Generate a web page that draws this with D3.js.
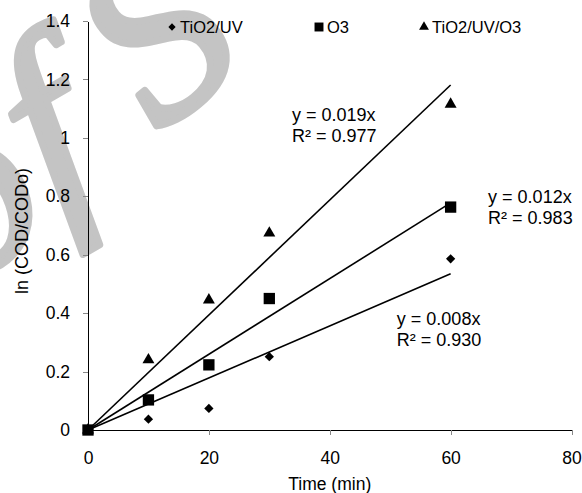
<!DOCTYPE html>
<html>
<head>
<meta charset="utf-8">
<script src="https://d3js.org/d3.v7.min.js"></script>
<style>
    body { margin: 0; background: #fff; }
    svg { display: block; font-family: "Liberation Sans", Arial, sans-serif; }
    .axis path, .axis line { shape-rendering: crispEdges; }
</style>
</head>
<body>
<div id="chart"></div>
<script>
// Data
var times = [0, 10, 20, 30, 60];
var tio2uv = [0, 0.037, 0.074, 0.251, 0.586];
var o3 = [0, 0.103, 0.223, 0.45, 0.763];
var tio2uvo3 = [0, 0.24, 0.445, 0.674, 1.115];
var seriesNames = ["TiO2/UV", "O3", "TiO2/UV/O3"];
var eqLabels = ["y = 0.008x", "y = 0.012x", "y = 0.019x"];
var r2Labels = ["R² = 0.930", "R² = 0.983", "R² = 0.977"];
var xTicks = [0, 20, 40, 60, 80];
var yTicks = [0, 0.2, 0.4, 0.6, 0.8, 1, 1.2, 1.4];

var width = 582, height = 493;
var margin = {top: 21, right: 10, bottom: 63, left: 88};

var x = d3.scaleLinear().domain([0, 80]).range([margin.left, 571.5]);
var y = d3.scaleLinear().domain([0, 1.4]).range([430, margin.top]);

var svg = d3.select("#chart").append("svg")
    .attr("width", width)
    .attr("height", height);

// watermark letters behind everything
var wmFont = 240;
var wmGlyphs = [
    {ch: "o", cx: -22, cy: 210, rot: -40, off: 0.23},
    {ch: "f", cx: 55, cy: 145, rot: -30, off: 0.24},
    {ch: "S", cx: 155, cy: 35, rot: -40, off: 0.33}
];
svg.append("g")
    .attr("fill", "#c4c4c4")
    .attr("stroke", "#c4c4c4")
    .attr("stroke-width", 7)
    .attr("stroke-linejoin", "round")
    .attr("font-family", "Liberation Serif, serif")
    .attr("font-style", "italic")
    .attr("font-size", wmFont)
    .selectAll("text")
    .data(wmGlyphs)
    .enter().append("text")
    .attr("transform", function(d) { return "translate(" + d.cx + "," + d.cy + ") rotate(" + d.rot + ")"; })
    .attr("text-anchor", "middle")
    .attr("y", function(d) { return d.off * wmFont; })
    .text(function(d) { return d.ch; });

// axes
var xAxis = svg.append("g")
    .attr("class", "x axis")
    .attr("transform", "translate(0," + y(0) + ")")
    .call(d3.axisBottom(x).tickValues(xTicks).tickSize(5).tickSizeOuter(0).tickPadding(17));
var yAxis = svg.append("g")
    .attr("class", "y axis")
    .attr("transform", "translate(" + x(0) + ",0)")
    .call(d3.axisLeft(y).tickValues(yTicks).tickSize(5).tickSizeOuter(0).tickPadding(13)
        .tickFormat(function(d) { return d3.format("")(+d.toFixed(1)); }));

svg.selectAll(".axis path").attr("stroke", "#000");
svg.selectAll(".axis line").attr("stroke", "#888");
svg.selectAll(".axis text").attr("font-size", 17.5).attr("fill", "#000")
    .attr("font-family", "Liberation Sans, Arial, sans-serif");
xAxis.selectAll(".tick").filter(function(d) { return d === 0; }).select("line").remove();

// axis titles
svg.append("text")
    .attr("x", (x(0) + x(80)) / 2)
    .attr("y", 490)
    .attr("text-anchor", "middle")
    .attr("font-size", 17.5)
    .text("Time (min)");
svg.append("text")
    .attr("transform", "translate(28,231) rotate(-90)")
    .attr("text-anchor", "middle")
    .attr("font-size", 18)
    .text("ln (COD/CODo)");

// marker shapes
var shapes = [d3.symbolDiamond2, d3.symbolSquare, d3.symbolTriangle];
var sizes = [55, 128, 62];
var allSeries = [tio2uv, o3, tio2uvo3];

// trend lines through origin (least squares), drawn 0..60
allSeries.forEach(function(vals, i) {
    var sxy = d3.sum(times, function(t, j) { return t * vals[j]; });
    var sxx = d3.sum(times, function(t) { return t * t; });
    var k = sxy / sxx;
    svg.append("line")
        .attr("x1", x(0)).attr("y1", y(0))
        .attr("x2", x(60)).attr("y2", y(k * 60))
        .attr("stroke", "#000")
        .attr("stroke-width", 1.6);
});

// points
allSeries.forEach(function(vals, i) {
    svg.append("g").selectAll("path")
        .data(times.map(function(t, j) { return [t, vals[j]]; }))
        .enter().append("path")
        .attr("transform", function(d) { return "translate(" + x(d[0]) + "," + y(d[1]) + ")"; })
        .attr("d", d3.symbol().type(shapes[i]).size(sizes[i]))
        .attr("fill", "#000");
});

// equation labels (anchored in data units)
var labelPos = [[51.1, 0.36], [66.2, 0.778], [33.75, 1.059]];
labelPos.forEach(function(p, i) {
    var t = svg.append("text")
        .attr("x", x(p[0]))
        .attr("y", y(p[1]))
        .attr("font-size", 18);
    t.append("tspan").text(eqLabels[i]);
    t.append("tspan").attr("x", x(p[0])).attr("dy", 21).text(r2Labels[i]);
});

// legend
var legendX = [172, 319, 424];
var legendSizes = [34, 80, 42];
var legend = svg.append("g").selectAll("g")
    .data(seriesNames)
    .enter().append("g")
    .attr("transform", function(d, i) { return "translate(" + legendX[i] + ",27)"; });
legend.append("path")
    .attr("d", function(d, i) { return d3.symbol().type(shapes[i]).size(legendSizes[i])(); })
    .attr("fill", "#000");
legend.append("text")
    .attr("x", 8)
    .attr("dy", "0.35em")
    .attr("font-size", 16.5)
    .text(function(d) { return d; });
</script>
</body>
</html>
